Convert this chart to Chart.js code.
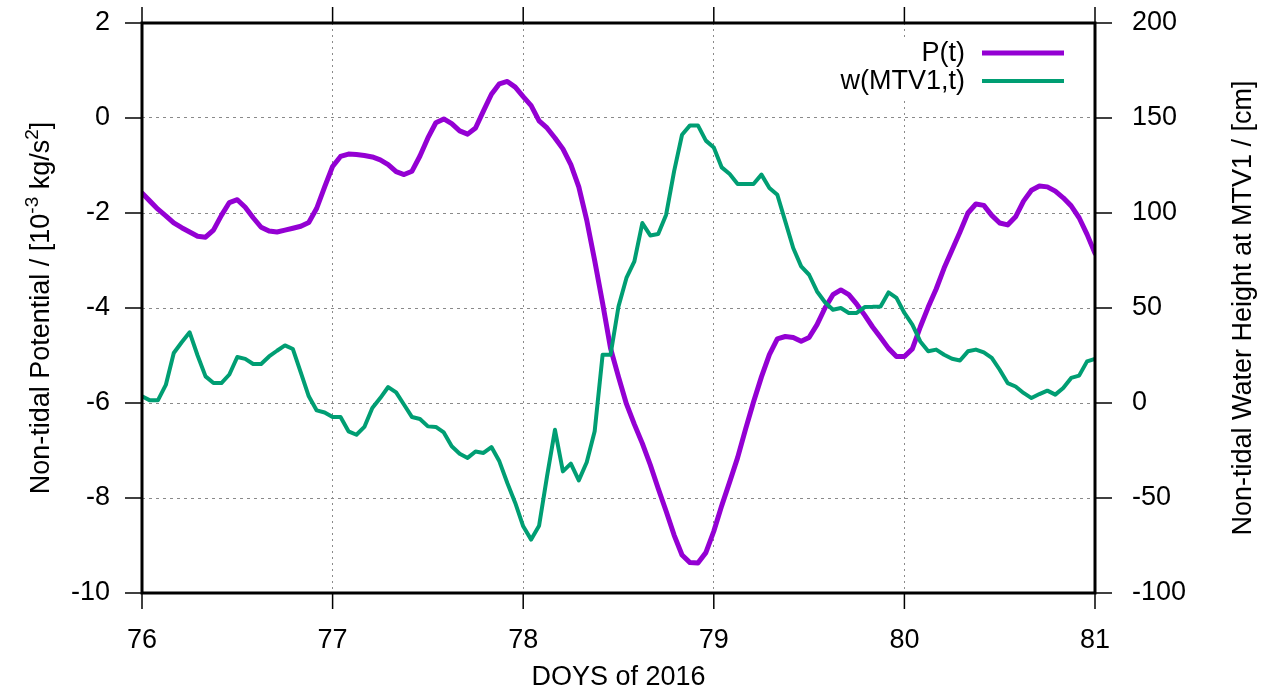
<!DOCTYPE html>
<html>
<head>
<meta charset="utf-8">
<script src="https://cdn.jsdelivr.net/npm/chart.js@4.4.1/dist/chart.umd.min.js"></script>
<style>
  html, body { margin: 0; padding: 0; background: #fff; }
  #wrap { width: 1278px; height: 691px; }
</style>
</head>
<body>
<div id="wrap"><canvas id="c" width="1278" height="691"></canvas></div>
<script>
// ---- data (hourly samples starting at DOY 76.0) ----
const startDay = 76;
const samplesPerDay = 24;
const potential = [
  -1.58,-1.75,-1.92,-2.06,-2.21,-2.31,-2.40,-2.49,-2.51,-2.36,
  -2.05,-1.78,-1.72,-1.88,-2.10,-2.30,-2.38,-2.40,-2.36,-2.32,
  -2.28,-2.20,-1.90,-1.45,-1.02,-0.81,-0.76,-0.77,-0.79,-0.82,
  -0.88,-0.98,-1.13,-1.19,-1.12,-0.80,-0.42,-0.10,-0.02,-0.12,
  -0.27,-0.34,-0.21,0.15,0.50,0.72,0.77,0.65,0.45,0.26,
  -0.06,-0.21,-0.42,-0.65,-0.98,-1.45,-2.15,-3.00,-3.90,-4.85,
  -5.45,-6.02,-6.45,-6.85,-7.30,-7.80,-8.28,-8.78,-9.20,-9.36,
  -9.37,-9.15,-8.70,-8.16,-7.66,-7.15,-6.55,-5.98,-5.45,-4.98,
  -4.65,-4.60,-4.62,-4.70,-4.62,-4.35,-4.00,-3.72,-3.62,-3.72,
  -3.92,-4.15,-4.40,-4.62,-4.85,-5.02,-5.02,-4.86,-4.40,-3.98,
  -3.60,-3.16,-2.78,-2.40,-2.00,-1.81,-1.84,-2.05,-2.21,-2.25,
  -2.08,-1.75,-1.52,-1.43,-1.45,-1.54,-1.68,-1.85,-2.10,-2.45,
  -2.85
];
const waterHeight = [
  3.5,1.4,1.4,9.5,26.3,32,37.2,25,14,10.5,
  10.5,15,24.2,23.2,20.5,20.5,24.5,27.5,30.3,28.4,
  16,3.5,-3.9,-5,-7.4,-7.4,-14.9,-16.7,-12.6,-2.6,
  2.6,8.4,5.6,-0.9,-7.4,-8.4,-12.3,-12.6,-15.5,-22.8,
  -26.7,-28.9,-25.5,-26.3,-23.2,-30.7,-42.1,-52.6,-64.9,-71.9,
  -64.6,-38.6,-14.1,-36,-31.9,-40.7,-31.2,-14.9,25.4,25.4,
  50.8,65.8,74.5,94.7,88.2,88.9,99.1,121.9,141.2,146.1,
  146.1,138.1,134.5,124,120.5,115.3,115.3,115.3,120.2,113.2,
  109.6,95.6,81.6,71.9,67.5,58.7,53,49.1,50,47.4,
  47.4,50.5,50.6,50.8,58.2,55.3,47.4,41.2,32.4,27.2,
  28.1,25.4,23.3,22.4,27.2,28.1,26.6,23.7,17.5,10.5,
  8.7,5.3,2.6,4.7,6.5,4.4,7.9,13.2,14.4,21.9,
  23.2
];
const xTicks = [76, 77, 78, 79, 80, 81];
const leftTicks = [2, 0, -2, -4, -6, -8, -10];
const rightTicks = [200, 150, 100, 50, 0, -50, -100];
const seriesLabels = ['P(t)', 'w(MTV1,t)'];
const xTitle = 'DOYS of 2016';
const rightTitle = 'Non-tidal Water Height at MTV1 / [cm]';
// left title pieces: [text, superscript?]
const leftTitleParts = [['Non-tidal Potential / [10', false], ['-3', true], [' kg/s', false], ['2', true], [']', false]];

const FONT = "'Liberation Sans', Arial, Helvetica, sans-serif";
const FS = 27;
const colors = ['#9400d3', '#009e73'];
const widths = [5, 4];

const toPoints = arr => arr.map((v, i) => ({ x: startDay + i / samplesPerDay, y: v }));

function line(ctx, x1, y1, x2, y2) { ctx.beginPath(); ctx.moveTo(x1, y1); ctx.lineTo(x2, y2); ctx.stroke(); }

const overlay = {
  id: 'overlay',
  beforeDatasetsDraw(chart) {
    const ctx = chart.ctx;
    ctx.save();
    ctx.fillStyle = '#fff';
    ctx.fillRect(880, 37, 195, 60);
    ctx.restore();
  },
  afterDraw(chart) {
    const { ctx, chartArea: a, scales } = chart;
    ctx.save();
    ctx.strokeStyle = '#000';
    ctx.lineWidth = 1.5;
    xTicks.forEach(v => {
      const px = scales.x.getPixelForValue(v);
      line(ctx, px, a.bottom, px, a.bottom + 16);
      line(ctx, px, a.top, px, a.top - 16);
    });
    leftTicks.forEach(v => {
      const py = scales.y.getPixelForValue(v);
      line(ctx, a.left - 17, py, a.left, py);
    });
    rightTicks.forEach(v => {
      const py = scales.y2.getPixelForValue(v);
      line(ctx, a.right, py, a.right + 17, py);
    });
    ctx.lineWidth = 3;
    ctx.strokeRect(a.left, a.top, a.right - a.left, a.bottom - a.top);

    // titles
    ctx.fillStyle = '#000';
    ctx.font = FS + 'px ' + FONT;
    ctx.textAlign = 'center';
    ctx.textBaseline = 'alphabetic';
    ctx.fillText(xTitle, (a.left + a.right) / 2, 685);

    const cy = (a.top + a.bottom) / 2;
    ctx.save();
    ctx.translate(1251, cy);
    ctx.rotate(-Math.PI / 2);
    ctx.fillText(rightTitle, 0, 0);
    ctx.restore();

    // left title with superscripts
    const supFS = Math.round(FS * 0.7);
    let total = 0;
    leftTitleParts.forEach(([t, sup]) => {
      ctx.font = (sup ? supFS : FS) + 'px ' + FONT;
      total += ctx.measureText(t).width;
    });
    ctx.save();
    ctx.translate(49, cy);
    ctx.rotate(-Math.PI / 2);
    ctx.textAlign = 'left';
    let x = -total / 2;
    leftTitleParts.forEach(([t, sup]) => {
      ctx.font = (sup ? supFS : FS) + 'px ' + FONT;
      ctx.fillText(t, x, sup ? -11 : 0);
      x += ctx.measureText(t).width;
    });
    ctx.restore();

    // legend
    ctx.font = FS + 'px ' + FONT;
    ctx.textAlign = 'right';
    ctx.textBaseline = 'middle';
    const rows = [54, 82];
    chart.data.datasets.forEach((ds, i) => {
      ctx.fillStyle = '#000';
      ctx.fillText(ds.label, 965, rows[i]);
      ctx.strokeStyle = ds.borderColor;
      ctx.lineWidth = ds.borderWidth;
      line(ctx, 982, rows[i] - 1, 1064, rows[i] - 1);
    });
    ctx.restore();
  }
};

Chart.defaults.font.family = FONT;
Chart.defaults.font.size = FS;
Chart.defaults.color = '#000';

const noPadV = s => { s.paddingTop = 0; s.paddingBottom = 0; };

new Chart(document.getElementById('c'), {
  type: 'line',
  data: {
    datasets: [
      { label: seriesLabels[0], data: toPoints(potential), yAxisID: 'y', borderColor: colors[0], borderWidth: widths[0],
        pointRadius: 0, tension: 0, borderJoinStyle: 'round', borderCapStyle: 'round', order: 1 },
      { label: seriesLabels[1], data: toPoints(waterHeight), yAxisID: 'y2', borderColor: colors[1], borderWidth: widths[1],
        pointRadius: 0, tension: 0, borderJoinStyle: 'round', borderCapStyle: 'round', order: 0 }
    ]
  },
  options: {
    responsive: false,
    animation: false,
    devicePixelRatio: 1,
    layout: { padding: { top: 23, left: 0, right: 0, bottom: 0 } },
    plugins: { legend: { display: false }, tooltip: { enabled: false } },
    scales: {
      x: {
        type: 'linear', position: 'bottom', min: 76, max: 81,
        afterBuildTicks: s => { s.ticks = xTicks.map(v => ({ value: v })); },
        afterFit: s => { s.height = 98; s.paddingLeft = 0; s.paddingRight = 0; },
        ticks: { padding: 31, maxRotation: 0, autoSkip: false },
        grid: { color: '#8a8a8a', lineWidth: 1, drawTicks: false, tickLength: 0 },
        border: { display: false, dash: [2, 4] }
      },
      y: {
        type: 'linear', position: 'left', min: -10, max: 2,
        afterBuildTicks: s => { s.ticks = leftTicks.map(v => ({ value: v })); },
        afterFit: s => { s.width = 142; noPadV(s); },
        ticks: { padding: 32 },
        grid: { color: '#8a8a8a', lineWidth: 1, drawTicks: false, tickLength: 0 },
        border: { display: false, dash: [3, 4] }
      },
      y2: {
        type: 'linear', position: 'right', min: -100, max: 200,
        afterBuildTicks: s => { s.ticks = rightTicks.map(v => ({ value: v })); },
        afterFit: s => { s.width = 183; noPadV(s); },
        ticks: { padding: 37 },
        grid: { display: false, drawTicks: false, tickLength: 0 },
        border: { display: false }
      }
    }
  },
  plugins: [overlay]
});
</script>
</body>
</html>
